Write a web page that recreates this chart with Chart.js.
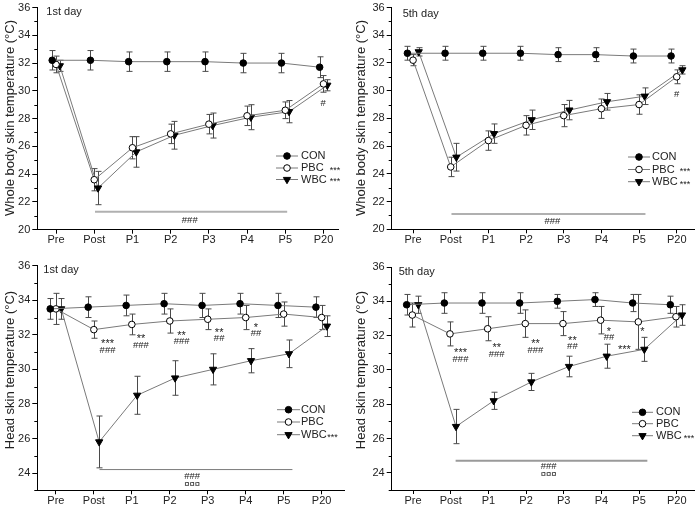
<!DOCTYPE html>
<html>
<head>
<meta charset="utf-8">
<script src="https://cdn.jsdelivr.net/npm/chart.js@4.4.1/dist/chart.umd.min.js"></script>
<style>
  html, body { margin: 0; padding: 0; background: #fff; }
  #fig { position: relative; width: 700px; height: 506px; overflow: hidden; }
  #fig canvas { position: absolute; }
</style>
</head>
<body>
<div id="fig">
  <canvas id="wb1" width="350" height="253" style="left:0;top:0"></canvas>
  <canvas id="wb5" width="350" height="253" style="left:350px;top:0"></canvas>
  <canvas id="hd1" width="350" height="253" style="left:0;top:253px"></canvas>
  <canvas id="hd5" width="350" height="253" style="left:350px;top:253px"></canvas>
</div>
<script>
// ====================== DATA ======================
const labels = ["Pre", "Post", "P1", "P2", "P3", "P4", "P5", "P20"];
const seriesNames = ["CON", "PBC", "WBC"];
const yTicksWhole = [20, 22, 24, 26, 28, 30, 32, 34, 36];
const yTicksHead  = [24, 26, 28, 30, 32, 34, 36];

// Whole body skin temperature, 1st day
const wb1Con    = [32.2, 32.2, 32.1, 32.1, 32.1, 32.0, 32.0, 31.7];
const wb1ConErr = [0.7, 0.7, 0.7, 0.7, 0.7, 0.7, 0.7, 0.75];
const wb1Pbc    = [31.9, 23.6, 25.9, 26.9, 27.6, 28.2, 28.6, 30.5];
const wb1PbcErr = [0.6, 0.8, 0.8, 0.7, 0.7, 0.7, 0.6, 0.6];
const wb1Wbc    = [31.8, 23.0, 25.6, 26.8, 27.5, 28.1, 28.5, 30.4];
const wb1WbcErr = [0.4, 1.2, 1.1, 1.0, 0.9, 0.9, 0.8, 0.4];

// Whole body skin temperature, 5th day
const wb5Con    = [32.7, 32.7, 32.7, 32.7, 32.6, 32.6, 32.5, 32.5];
const wb5ConErr = [0.5, 0.5, 0.5, 0.5, 0.5, 0.5, 0.5, 0.5];
const wb5Pbc    = [32.2, 24.5, 26.4, 27.5, 28.2, 28.7, 29.0, 31.0];
const wb5PbcErr = [0.4, 0.7, 0.7, 0.7, 0.8, 0.7, 0.7, 0.5];
const wb5Wbc    = [32.8, 25.2, 26.9, 27.9, 28.6, 29.2, 29.6, 31.5];
const wb5WbcErr = [0.3, 1.0, 0.7, 0.7, 0.7, 0.6, 0.6, 0.3];

// Head skin temperature, 1st day
const hd1Con    = [33.5, 33.6, 33.7, 33.8, 33.7, 33.8, 33.7, 33.6];
const hd1ConErr = [0.6, 0.6, 0.6, 0.6, 0.7, 0.6, 0.7, 0.6];
const hd1Pbc    = [33.5, 32.3, 32.6, 32.8, 32.9, 33.0, 33.2, 33.0];
const hd1PbcErr = [0.9, 0.5, 0.6, 0.7, 0.6, 0.7, 0.7, 0.7];
const hd1Wbc    = [33.5, 25.8, 28.5, 29.5, 30.0, 30.5, 30.9, 32.5];
const hd1WbcErr = [0.6, 1.5, 1.1, 1.0, 0.9, 0.7, 0.8, 0.6];

// Head skin temperature, 5th day
const hd5Con    = [33.8, 33.9, 33.9, 33.9, 34.0, 34.1, 33.9, 33.8];
const hd5ConErr = [0.6, 0.6, 0.6, 0.6, 0.4, 0.4, 0.5, 0.5];
const hd5Pbc    = [33.2, 32.1, 32.4, 32.7, 32.7, 32.9, 32.8, 33.1];
const hd5PbcErr = [0.7, 0.7, 0.7, 0.8, 0.7, 0.8, 1.6, 0.6];
const hd5Wbc    = [33.8, 26.7, 28.2, 29.3, 30.2, 30.8, 31.2, 33.2];
const hd5WbcErr = [0.5, 1.0, 0.5, 0.5, 0.6, 0.7, 0.7, 0.6];

// ====================== STYLE ======================
const FONT = "'Liberation Sans', Arial, sans-serif";
const lineGray = "#7a7a7a";
const markers = [
    { pointStyle: "circle",   radius: 3.3, fill: "#000", rotation: 0 },
    { pointStyle: "circle",   radius: 3.3, fill: "#fff", rotation: 0 },
    { pointStyle: "triangle", radius: 4.2, fill: "#000", rotation: 180 }
];

// ====================== PLUGINS ======================
const errorBars = {
    id: "errorBars",
    beforeDatasetsDraw(chart) {
        const { ctx, scales: { x, y } } = chart;
        ctx.save();
        ctx.strokeStyle = "#4a4a4a";
        ctx.lineWidth = 1;
        chart.data.datasets.forEach(ds => {
            ds.data.forEach((pt, i) => {
                const e = ds.errors[i];
                const px = Math.round(x.getPixelForValue(pt.x)) + 0.5;
                const top = y.getPixelForValue(pt.y + e);
                const bot = y.getPixelForValue(pt.y - e);
                ctx.beginPath();
                ctx.moveTo(px, top); ctx.lineTo(px, bot);
                ctx.moveTo(px - 3, top); ctx.lineTo(px + 3, top);
                ctx.moveTo(px - 3, bot); ctx.lineTo(px + 3, bot);
                ctx.stroke();
            });
        });
        ctx.restore();
    }
};

const extras = {
    id: "extras",
    beforeDatasetsDraw(chart, args, o) {
        const { ctx, chartArea: a, scales: { x, y } } = chart;
        ctx.save();

        // minor ticks on y
        ctx.strokeStyle = "#000";
        ctx.lineWidth = 1;
        for (let v = Math.ceil(y.min); v <= y.max; v++) {
            if (o.yTicks.includes(v)) continue;
            const py = Math.round(y.getPixelForValue(v)) + 0.5;
            ctx.beginPath();
            ctx.moveTo(a.left - 3, py); ctx.lineTo(a.left, py);
            ctx.stroke();
        }

        // significance bar
        const s = o.bar;
        ctx.strokeStyle = s.color;
        ctx.lineWidth = s.width;
        ctx.beginPath();
        const by = y.getPixelForValue(s.y);
        ctx.moveTo(x.getPixelForValue(s.x0), by);
        ctx.lineTo(x.getPixelForValue(s.x1), by);
        ctx.stroke();
        ctx.restore();
    },
    afterDraw(chart, args, o) {
        const { ctx, chartArea: a, scales: { x, y } } = chart;
        ctx.save();
        ctx.fillStyle = "#222";

        // panel label
        ctx.font = "11px " + FONT;
        ctx.textAlign = "left";
        ctx.textBaseline = "middle";
        ctx.fillText(o.day, a.left + o.dayPos[0], a.top + o.dayPos[1]);

        // y axis title
        ctx.save();
        ctx.translate(o.titleX, o.titleY);
        ctx.rotate(-Math.PI / 2);
        ctx.textAlign = "center";
        ctx.font = "13px " + FONT;
        ctx.fillText(o.title, 0, 0);
        ctx.restore();

        // notes (asterisks sit high in the font, push them down)
        ctx.textAlign = "center";
        o.notes.forEach(n => {
            const star = n.t.includes("*");
            const size = star ? 11 : 9.5;
            ctx.font = size + "px " + FONT;
            ctx.fillText(n.t, x.getPixelForValue(n.x), y.getPixelForValue(n.y) + (star ? 3 : 0));
        });

        // legend
        const L = o.legend;
        chart.data.datasets.forEach((ds, i) => {
            const ly = L.rows[i];
            ctx.strokeStyle = lineGray;
            ctx.lineWidth = 1;
            ctx.beginPath();
            ctx.moveTo(L.x0, ly); ctx.lineTo(L.x1, ly);
            ctx.stroke();
            const m = markers[i];
            ctx.fillStyle = m.fill;
            ctx.strokeStyle = "#000";
            Chart.helpers.drawPoint(ctx, {
                pointStyle: m.pointStyle, radius: m.radius,
                rotation: m.rotation, borderWidth: 1
            }, (L.x0 + L.x1) / 2, ly);
            ctx.fillStyle = "#222";
            ctx.font = "11px " + FONT;
            ctx.textAlign = "left";
            ctx.fillText(ds.label, L.tx, ly);
            if (L.stars[i]) {
                const w = ctx.measureText(ds.label).width;
                ctx.font = "9px " + FONT;
                // sx = null -> stars glued to the label
                if (L.sx === null) {
                    ctx.fillText("***", L.tx + w + 0.5, ly + 2.5);
                } else {
                    ctx.textAlign = "center";
                    ctx.fillText("***", L.sx, ly + 2.5);
                }
            }
        });
        ctx.restore();
    }
};

// ====================== BUILD ======================
function serie(i, vals, errs, dx) {
    const m = markers[i];
    return {
        label: seriesNames[i],
        data: vals.map((v, k) => ({ x: k + dx, y: v })),
        errors: errs,
        borderColor: lineGray,
        borderWidth: 1,
        tension: 0,
        fill: false,
        pointStyle: m.pointStyle,
        pointRadius: m.radius,
        pointRotation: m.rotation,
        pointBackgroundColor: m.fill,
        pointBorderColor: "#000",
        pointBorderWidth: 1
    };
}

function crearPanel(id, p) {
    const tickFont = { family: FONT, size: 11, lineHeight: 1 };
    return new Chart(document.getElementById(id), {
        type: "line",
        data: {
            datasets: [
                serie(0, p.con, p.conErr, p.dx[0]),
                serie(1, p.pbc, p.pbcErr, p.dx[1]),
                serie(2, p.wbc, p.wbcErr, p.dx[2])
            ]
        },
        options: {
            responsive: false,
            animation: false,
            devicePixelRatio: 1,
            layout: { padding: { top: p.padTop, right: p.padRight, left: 0, bottom: 0 } },
            plugins: {
                legend: { display: false },
                tooltip: { enabled: false },
                extras: {
                    yTicks: p.yTicks, bar: p.bar, notes: p.notes, legend: p.legend,
                    day: p.day, dayPos: p.dayPos, title: p.title, titleX: p.titleX, titleY: p.titleY
                }
            },
            scales: {
                x: {
                    type: "linear",
                    min: p.xMin, max: p.xMax,
                    afterFit: s => { s.height = p.xH; },
                    afterBuildTicks: s => { s.ticks = labels.map((l, k) => ({ value: k })); },
                    ticks: { font: tickFont, color: "#222", padding: 1, autoSkip: false, maxRotation: 0,
                             callback: v => labels[v] },
                    grid: { display: true, drawOnChartArea: false, drawTicks: true, tickLength: 4, color: "#000" },
                    border: { display: true, color: "#000", width: 1 }
                },
                y: {
                    min: p.yMin, max: 36,
                    afterFit: s => { s.width = p.yW; },
                    afterBuildTicks: s => { s.ticks = p.yTicks.map(v => ({ value: v })); },
                    ticks: { font: tickFont, color: "#222", padding: 2 },
                    grid: { display: true, drawOnChartArea: false, drawTicks: true, tickLength: 5, color: "#000" },
                    border: { display: true, color: "#000", width: 1 }
                }
            }
        },
        plugins: [errorBars, extras]
    });
}

document.addEventListener("DOMContentLoaded", () => {
    crearPanel("wb1", {
        con: wb1Con, conErr: wb1ConErr, pbc: wb1Pbc, pbcErr: wb1PbcErr, wbc: wb1Wbc, wbcErr: wb1WbcErr,
        dx: [-0.1, 0, 0.1], yMin: 20, yTicks: yTicksWhole,
        xMin: -0.49, xMax: 7.38, yW: 37.3, xH: 23.3, padTop: 5.7, padRight: 12,
        day: "1st day", dayPos: [9, 4.5],
        title: "Whole body skin temperature (°C)", titleX: 10, titleY: 118,
        bar: { x0: 1.02, x1: 6.05, y: 21.3, color: "#b0b0b0", width: 2 },
        notes: [{ t: "###", x: 3.5, y: 20.7 }, { t: "#", x: 6.99, y: 29.1 }],
        legend: { x0: 276, x1: 298, tx: 301, rows: [156, 168, 179.5], sx: 335, stars: [false, true, true] }
    });

    crearPanel("wb5", {
        con: wb5Con, conErr: wb5ConErr, pbc: wb5Pbc, pbcErr: wb5PbcErr, wbc: wb5Wbc, wbcErr: wb5WbcErr,
        dx: [-0.15, 0, 0.15], yMin: 20, yTicks: yTicksWhole,
        xMin: -0.567, xMax: 7.48, yW: 41.7, xH: 23.7, padTop: 5.7, padRight: 1.7,
        day: "5th day", dayPos: [11, 6],
        title: "Whole body skin temperature (°C)", titleX: 11, titleY: 118,
        bar: { x0: 1.02, x1: 6.17, y: 21.1, color: "#b0b0b0", width: 2 },
        notes: [{ t: "###", x: 3.7, y: 20.6 }, { t: "#", x: 7.0, y: 29.7 }],
        legend: { x0: 278, x1: 300, tx: 302, rows: [157, 169.5, 181.7], sx: 335, stars: [false, true, true] }
    });

    crearPanel("hd1", {
        con: hd1Con, conErr: hd1ConErr, pbc: hd1Pbc, pbcErr: hd1PbcErr, wbc: hd1Wbc, wbcErr: hd1WbcErr,
        dx: [-0.15, 0, 0.14], yMin: 23, yTicks: yTicksHead,
        xMin: -0.49, xMax: 7.61, yW: 37.3, xH: 15.7, padTop: 12.7, padRight: 3.3,
        day: "1st day", dayPos: [6, 4.6],
        title: "Head skin temperature (°C)", titleX: 10, titleY: 117,
        bar: { x0: 1.15, x1: 6.23, y: 24.2, color: "#7a7a7a", width: 1 },
        notes: [
            { t: "###", x: 3.59, y: 23.8 }, { t: "¤¤¤", x: 3.59, y: 23.36 },
            { t: "***", x: 1.36, y: 31.64 }, { t: "###", x: 1.36, y: 31.11 },
            { t: "**",  x: 2.24, y: 31.93 }, { t: "###", x: 2.24, y: 31.40 },
            { t: "**",  x: 3.31, y: 32.08 }, { t: "###", x: 3.31, y: 31.60 },
            { t: "**",  x: 4.30, y: 32.28 }, { t: "##",  x: 4.30, y: 31.80 },
            { t: "*",   x: 5.27, y: 32.57 }, { t: "##",  x: 5.27, y: 32.08 }
        ],
        legend: { x0: 277, x1: 300, tx: 301, rows: [156.7, 169, 181.7], sx: null, stars: [false, false, true] }
    });

    crearPanel("hd5", {
        con: hd5Con, conErr: hd5ConErr, pbc: hd5Pbc, pbcErr: hd5PbcErr, wbc: hd5Wbc, wbcErr: hd5WbcErr,
        dx: [-0.17, -0.02, 0.14], yMin: 23, yTicks: yTicksHead,
        xMin: -0.567, xMax: 7.48, yW: 41.7, xH: 16, padTop: 14, padRight: 2,
        day: "5th day", dayPos: [7, 5],
        title: "Head skin temperature (°C)", titleX: 11, titleY: 117,
        bar: { x0: 1.13, x1: 6.22, y: 24.7, color: "#9a9a9a", width: 2 },
        notes: [
            { t: "###", x: 3.6, y: 24.4 }, { t: "¤¤¤", x: 3.6, y: 23.9 },
            { t: "***", x: 1.26, y: 31.18 }, { t: "###", x: 1.26, y: 30.64 },
            { t: "**",  x: 2.22, y: 31.47 }, { t: "###", x: 2.22, y: 30.93 },
            { t: "**",  x: 3.25, y: 31.67 }, { t: "###", x: 3.25, y: 31.12 },
            { t: "**",  x: 4.23, y: 31.86 }, { t: "##",  x: 4.23, y: 31.38 },
            { t: "*",   x: 5.20, y: 32.39 }, { t: "##",  x: 5.20, y: 31.92 },
            { t: "***", x: 5.61, y: 31.32 }, { t: "*",   x: 6.09, y: 32.40 }
        ],
        legend: { x0: 282, x1: 303, tx: 306, rows: [159.3, 170.7, 182.7], sx: 339, stars: [false, false, true] }
    });
});
</script>
</body>
</html>
